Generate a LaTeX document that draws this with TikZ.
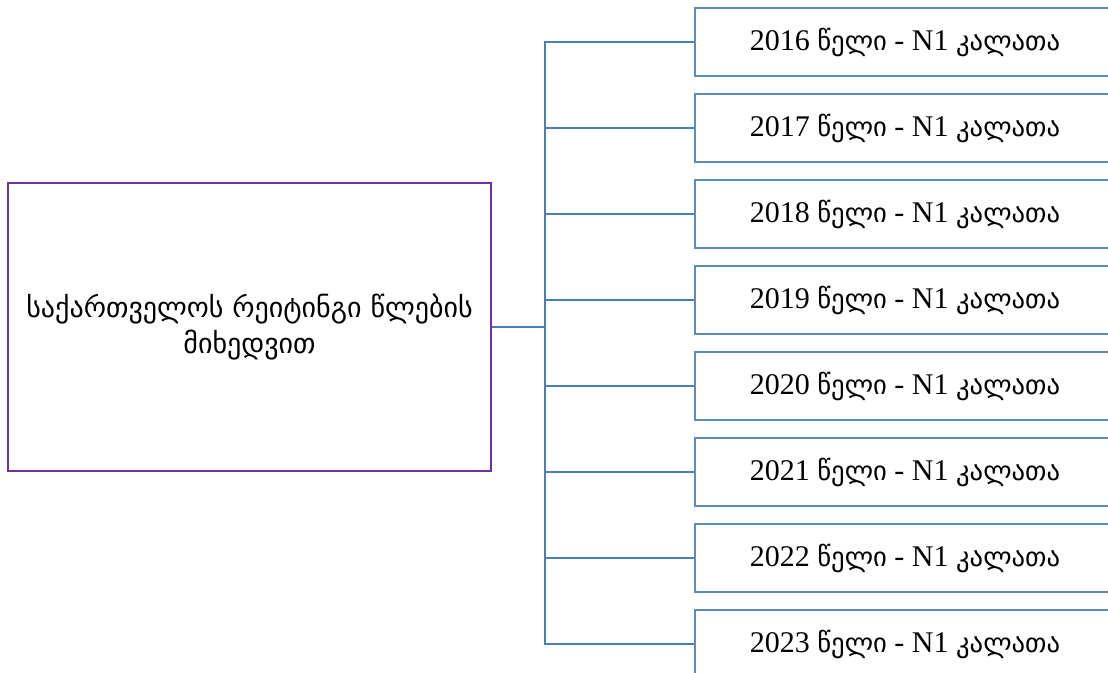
\documentclass[tikz,border=0pt]{standalone}
\usepackage{fontspec}
\setmainfont{Liberation Serif}
\newfontfamily\geo{DejaVu Sans}
\usetikzlibrary{positioning}
\definecolor{plum}{HTML}{7030A0}
\definecolor{steel}{HTML}{4A7EBB}
\tikzset{
  mainbox/.style={draw=plum,line width=1.8pt,fill=white,minimum width=362pt,minimum height=216pt,align=center,font=\fontsize{21}{27}\selectfont\geo,inner sep=0pt},
  yearbox/.style={draw=steel!90,line width=1.8pt,fill=white,minimum width=315pt,minimum height=51pt,inner sep=0pt,font=\fontsize{22.5}{28}\selectfont},
  link/.style={draw=steel,line width=1.8pt},
}
\begin{document}
\begin{tikzpicture}[x=0.75pt,y=-0.75pt]
  \useasboundingbox (0,0) rectangle (1108,673);
  \node[mainbox] (rating) at (249.5,327) {საქართველოს რეიტინგი წლების\\მიხედვით};
  \coordinate (trunk) at (545,327);
  \draw[link] (rating.east) -- (trunk);
  \foreach \yr [count=\i from 0] in {2016,...,2023} {
    \node[yearbox] (y\yr) at (905,42+86*\i) {\yr\ {\geo\fontsize{20}{28}\selectfont წელი} - N1 {\geo\fontsize{20}{28}\selectfont კალათა}};
    \draw[link] (trunk) |- (y\yr.west);
  }
\end{tikzpicture}
\end{document}
